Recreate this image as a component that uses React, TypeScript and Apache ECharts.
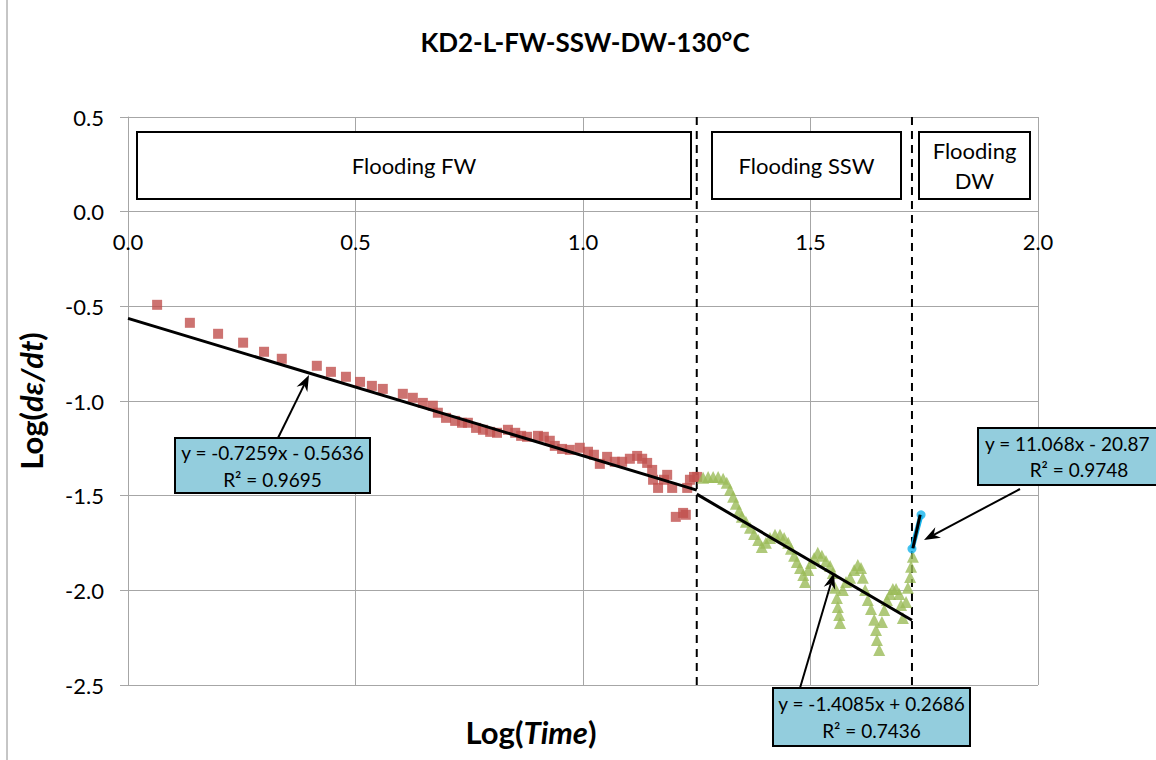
import React, { useEffect, useRef } from "react";
import * as echarts from "echarts";

const xTicks = [0, 0.5, 1.0, 1.5, 2.0];
const yTicks = [-2.5, -2.0, -1.5, -1.0, -0.5, 0.0, 0.5];

const floodFW: [number, number][] = [
  [0.064, -0.492], [0.136, -0.587], [0.198, -0.645], [0.253, -0.692], [0.299, -0.74],
  [0.338, -0.777], [0.415, -0.814], [0.446, -0.846], [0.479, -0.872], [0.51, -0.899],
  [0.536, -0.92], [0.56, -0.936], [0.604, -0.962], [0.626, -0.983], [0.648, -1.01],
  [0.67, -1.025], [0.681, -1.062], [0.699, -1.089], [0.719, -1.105], [0.734, -1.115],
  [0.747, -1.115], [0.765, -1.142], [0.78, -1.152], [0.796, -1.163], [0.811, -1.168],
  [0.835, -1.152], [0.851, -1.168], [0.864, -1.184], [0.877, -1.189], [0.901, -1.184],
  [0.914, -1.189], [0.927, -1.21], [0.938, -1.237], [0.954, -1.253], [0.971, -1.258],
  [0.993, -1.247], [1.011, -1.268], [1.024, -1.284], [1.037, -1.332], [1.053, -1.295],
  [1.07, -1.321], [1.086, -1.321], [1.103, -1.305], [1.119, -1.29], [1.13, -1.305],
  [1.141, -1.327], [1.152, -1.364], [1.154, -1.416], [1.165, -1.459], [1.178, -1.416],
  [1.185, -1.39], [1.196, -1.459], [1.204, -1.612], [1.22, -1.591], [1.226, -1.601],
  [1.229, -1.459], [1.235, -1.416], [1.244, -1.401], [1.251, -1.401],
];

const floodSSW: [number, number][] = [
  [1.264, -1.406], [1.275, -1.401], [1.286, -1.401], [1.297, -1.401], [1.308, -1.411],
  [1.316, -1.432], [1.323, -1.469], [1.33, -1.506], [1.336, -1.543], [1.343, -1.58],
  [1.349, -1.612], [1.358, -1.638], [1.367, -1.67], [1.376, -1.702], [1.385, -1.734],
  [1.393, -1.771], [1.402, -1.749], [1.411, -1.723], [1.422, -1.707], [1.433, -1.707],
  [1.442, -1.723], [1.451, -1.749], [1.457, -1.781], [1.464, -1.818], [1.47, -1.85],
  [1.477, -1.882], [1.484, -1.919], [1.488, -1.956], [1.495, -1.892], [1.501, -1.855],
  [1.508, -1.829], [1.516, -1.802], [1.525, -1.818], [1.534, -1.845], [1.543, -1.871],
  [1.549, -1.908], [1.554, -1.987], [1.558, -2.04], [1.56, -2.088], [1.563, -2.13],
  [1.565, -2.172], [1.571, -1.998], [1.578, -1.956], [1.587, -1.934], [1.596, -1.892],
  [1.604, -1.866], [1.611, -1.882], [1.615, -1.934], [1.62, -1.998], [1.626, -2.051],
  [1.633, -2.098], [1.64, -2.156], [1.644, -2.209], [1.646, -2.262], [1.651, -2.315],
  [1.657, -2.167], [1.662, -2.104], [1.668, -2.051], [1.675, -2.019], [1.681, -1.993],
  [1.688, -1.993], [1.695, -2.019], [1.699, -2.077], [1.703, -2.146], [1.71, -2.061],
  [1.714, -1.987], [1.719, -1.929], [1.721, -1.876], [1.725, -1.823],
];

const floodDW: [number, number][] = [
  [1.723, -1.781], [1.743, -1.601],
];

const trendFW: [number, number][] = [[0, -0.5636], [1.25, -1.4710]];
const trendSSW: [number, number][] = [[1.25, -1.4920], [1.723, -2.1582]];
const trendDW: [number, number][] = [[1.725, -1.7777], [1.741, -1.6006]];

const phaseBounds = [1.25, 1.723];

const FONT = "Lato, 'Liberation Sans', sans-serif";

const GRID = { left: 128, top: 117, right: 118, bottom: 75 };
const CH = 760;

function arrow(x1: number, y1: number, x2: number, y2: number) {
  const ang = Math.atan2(y2 - y1, x2 - x1);
  const L = 16, W = 6;
  const bx = x2 - L * Math.cos(ang), by = y2 - L * Math.sin(ang);
  const px = -Math.sin(ang) * W, py = Math.cos(ang) * W;
  const nx = x2 - (L - 5) * Math.cos(ang), ny = y2 - (L - 5) * Math.sin(ang);
  return [
    { type: "line", shape: { x1, y1, x2: nx, y2: ny }, style: { stroke: "#000", lineWidth: 2 }, z: 100 },
    {
      type: "polygon",
      shape: { points: [[x2, y2], [bx + px, by + py], [nx, ny], [bx - px, by - py]] },
      style: { fill: "#000" },
      z: 100,
    },
  ];
}

function box(x: number, y: number, w: number, h: number, text: string, fill: string, size: number, lh: number) {
  return [
    { type: "rect", shape: { x, y, width: w, height: h }, style: { fill, stroke: "#000", lineWidth: 2 }, z: 100 },
    {
      type: "text",
      x: x + w / 2,
      y: y + h / 2,
      style: { text, fill: "#000", font: `${size}px ${FONT}`, align: "center", verticalAlign: "middle", lineHeight: lh },
      z: 101,
    },
  ];
}

export default function App() {
  const ref = useRef<HTMLDivElement>(null);
  useEffect(() => {
    const chart = echarts.init(ref.current!, undefined, { renderer: "svg" });
    const scatter = (name: string, data: [number, number][], symbol: string, size: number, color: string) => ({
      name, type: "scatter", data, symbol, symbolSize: size, itemStyle: { color }, z: 3,
    });
    const line = (data: [number, number][], color: string, width: number, type: any = "solid", z = 5) => ({
      type: "line", data, symbol: "none", lineStyle: { color, width, type }, z, silent: true,
    });
    const yMin = yTicks[0], yMax = yTicks[yTicks.length - 1];
    const gridH = CH - GRID.top - GRID.bottom;
    const zeroOffset = -gridH * (0 - yMin) / (yMax - yMin);
    chart.setOption({
      animation: false,
      backgroundColor: "#fff",
      grid: GRID,
      xAxis: {
        type: "value",
        min: xTicks[0],
        max: xTicks[xTicks.length - 1],
        interval: 0.5,
        offset: zeroOffset,
        axisLine: { onZero: false, lineStyle: { color: "#a6a6a6", width: 1 } },
        axisTick: { show: false },
        axisLabel: { margin: 19, color: "#000", fontSize: 22, fontFamily: FONT, formatter: (v: number) => v.toFixed(1) },
        splitLine: { lineStyle: { color: "#a6a6a6", width: 1 } },
      },
      yAxis: {
        type: "value",
        min: yMin,
        max: yMax,
        interval: 0.5,
        axisLine: { show: true, onZero: false, lineStyle: { color: "#a6a6a6", width: 1 } },
        axisTick: { show: true, length: 8, lineStyle: { color: "#a6a6a6" } },
        axisLabel: { margin: 24, color: "#000", fontSize: 22, fontFamily: FONT, formatter: (v: number) => v.toFixed(1) },
        splitLine: { lineStyle: { color: "#a6a6a6", width: 1 } },
        name: "{a|Log(}{b|dε/dt}{a|)}",
        nameLocation: "middle",
        nameGap: 82,
        nameTextStyle: {
          rich: {
            a: { fontSize: 31, fontWeight: "bold", fontFamily: FONT, color: "#000" },
            b: { fontSize: 31, fontWeight: "bold", fontStyle: "italic", fontFamily: FONT, color: "#000" },
          },
        },
      },
      series: [
        line([[phaseBounds[0], yMax], [phaseBounds[0], yMin]], "#000", 2, [8, 6], 2),
        line([[phaseBounds[1], yMax], [phaseBounds[1], yMin]], "#000", 2, [8, 6], 2),
        scatter("FW", floodFW, "rect", 10, "#c0504d"),
        scatter("SSW", floodSSW, "triangle", 12, "#9bbb59"),
        { ...scatter("DW", floodDW, "circle", 9, "#16b4ec"), z: 4 },
        { type: "line", data: floodDW, symbol: "none", lineStyle: { color: "#16b4ec", width: 5 }, z: 4 },
        line(trendFW, "#000", 3),
        line(trendSSW, "#000", 3),
        line(trendDW, "#000", 3),
      ],
      graphic: [
        { type: "rect", shape: { x: 7, y: -2, width: 1170, height: 775 }, style: { fill: "none", stroke: "#8c8c8c", lineWidth: 1 }, z: 0 },
        {
          type: "text", x: 585, y: 42,
          style: { text: "KD2-L-FW-SSW-DW-130°C", font: `bold 26px ${FONT}`, fill: "#000", align: "center", verticalAlign: "middle" },
        },
        {
          type: "text", x: 531, y: 732,
          style: {
            text: "{a|Log(}{b|Time}{a|)}", align: "center", verticalAlign: "middle",
            rich: {
              a: { fontSize: 31, fontWeight: "bold", fontFamily: FONT, fill: "#000" },
              b: { fontSize: 31, fontWeight: "bold", fontStyle: "italic", fontFamily: FONT, fill: "#000" },
            },
          },
        },
        ...box(137, 132, 554, 67, "Flooding FW", "#fff", 22, 30),
        ...box(712, 132, 189, 67, "Flooding SSW", "#fff", 22, 30),
        ...box(919, 132, 111, 67, "Flooding\nDW", "#fff", 22, 30),
        ...arrow(278, 438, 309, 375),
        ...arrow(800, 688, 834, 573),
        ...arrow(1020, 489, 924, 540),
        ...box(175, 438, 195, 55, "y = -0.7259x - 0.5636\nR² = 0.9695", "#93cddd", 19, 27),
        ...box(773, 688, 197, 58, "y = -1.4085x + 0.2686\nR² = 0.7436", "#93cddd", 19, 27),
        { type: "rect", shape: { x: 978, y: 428, width: 200, height: 57 }, style: { fill: "#93cddd", stroke: "#000", lineWidth: 2 }, z: 100 },
        {
          type: "text", x: 985, y: 443,
          style: { text: "y = 11.068x - 20.87", fill: "#000", font: `19px ${FONT}`, align: "left", verticalAlign: "middle" },
          z: 101,
        },
        {
          type: "text", x: 1079, y: 469,
          style: { text: "R² = 0.9748", fill: "#000", font: `19px ${FONT}`, align: "center", verticalAlign: "middle" },
          z: 101,
        },
      ],
    });
    return () => chart.dispose();
  }, []);
  return <div ref={ref} style={{ position: "fixed", left: 0, top: 0, width: 1156, height: 760 }} />;
}
